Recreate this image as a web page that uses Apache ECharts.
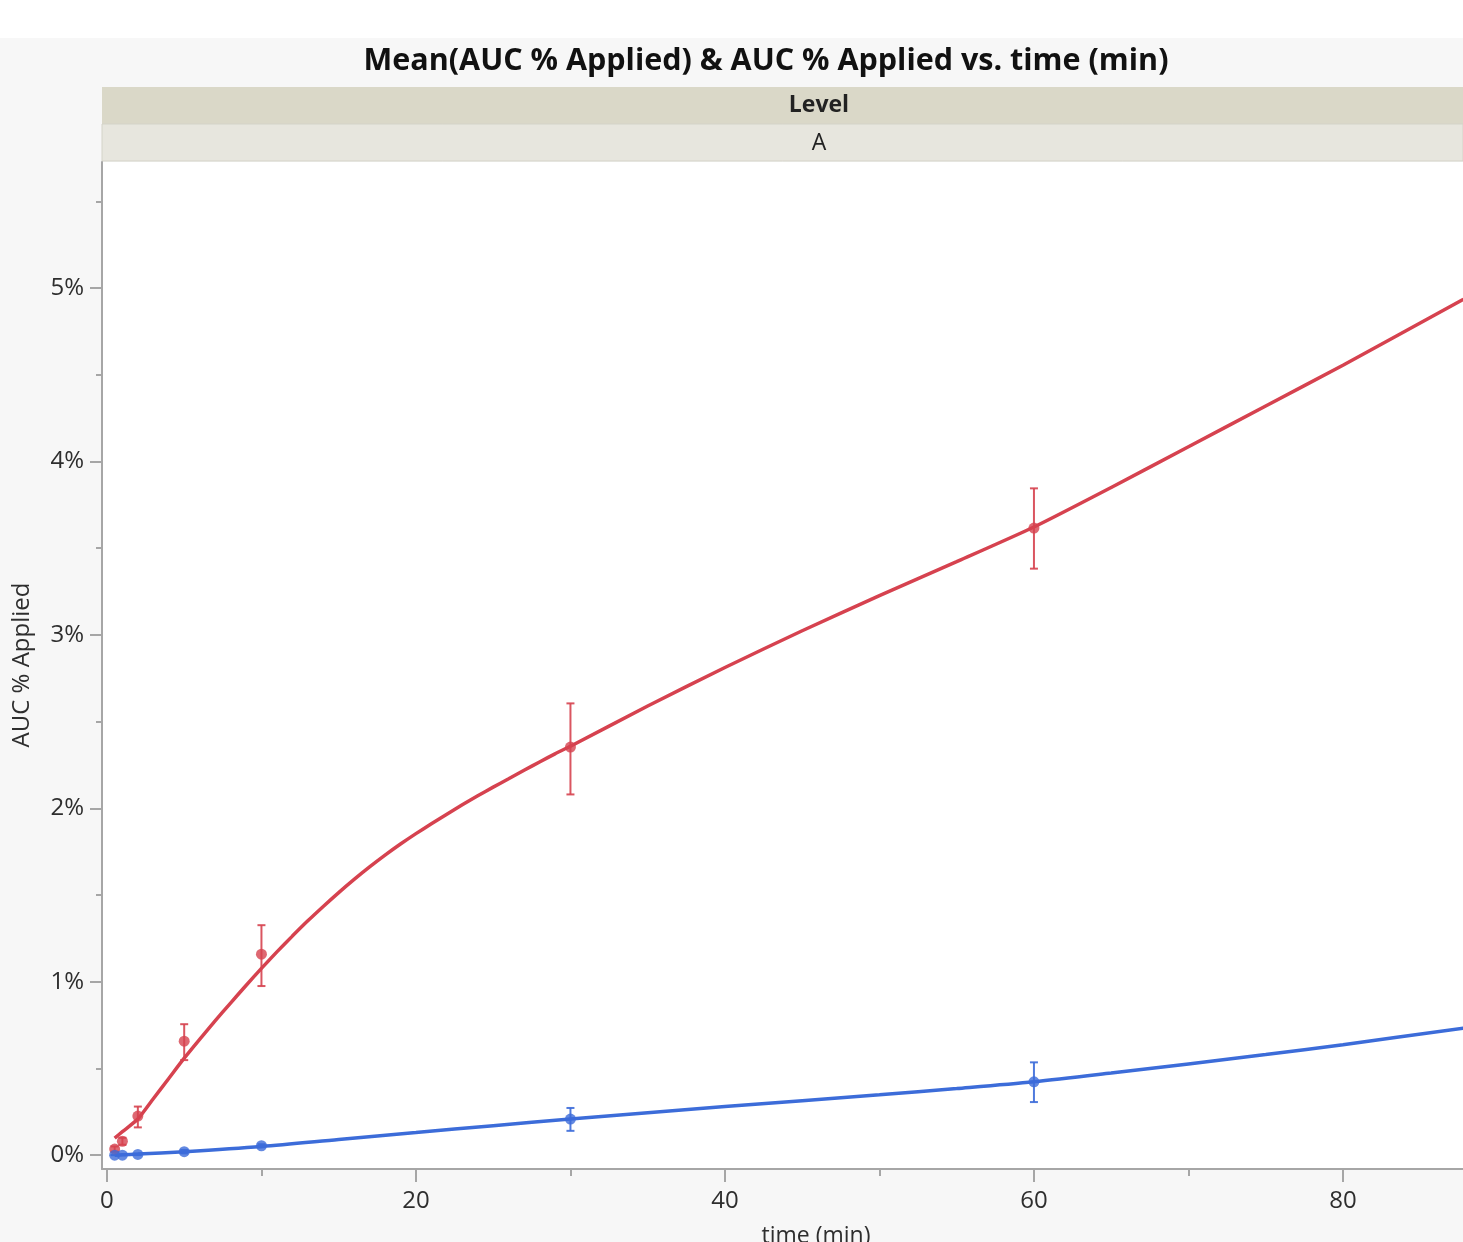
<!DOCTYPE html>
<html>
<head>
<meta charset="utf-8">
<script src="https://cdn.jsdelivr.net/npm/echarts@6/dist/echarts.min.js"></script>
<style>
  html, body { margin: 0; padding: 0; background: #ffffff; overflow: hidden; }
  #chart { width: 1463px; height: 1242px; }
</style>
</head>
<body>
<div id="chart"></div>
<script>
// Sampling times (min) for the measured means
const times = [0.5, 1, 2, 5, 10, 30, 60];

// Level A, upper series: mean AUC % Applied with error bar limits
const redMean  = [0.035, 0.08, 0.225, 0.657, 1.159, 2.353, 3.616];
const redLower = [0.02, 0.06, 0.16, 0.548, 0.975, 2.080, 3.382];
const redUpper = [0.05, 0.10, 0.28, 0.755, 1.326, 2.605, 3.845];

// Level A, lower series
const blueMean  = [0.0, 0.0, 0.004, 0.02, 0.054, 0.208, 0.423];
const blueLower = [0.0, 0.0, 0.0, 0.01, 0.045, 0.140, 0.306];
const blueUpper = [0.0, 0.0, 0.008, 0.03, 0.063, 0.272, 0.535];

// Smoothed fit curves, sampled along time
const redFitTimes = [0.5, 1, 2, 3, 4, 5, 6, 7, 8, 9, 10, 11, 12, 13, 14, 15, 16, 17, 18, 19, 20,
                     21, 22, 23, 24, 25, 26, 27, 28, 29, 30, 35, 40, 45, 50, 55, 60, 65, 70, 75, 80, 87.8];
const redFit      = [0.098, 0.135, 0.208, 0.325, 0.442, 0.559, 0.668, 0.774, 0.877, 0.978, 1.077,
                     1.172, 1.263, 1.351, 1.434, 1.514, 1.590, 1.662, 1.730, 1.794, 1.854,
                     1.911, 1.966, 2.020, 2.072, 2.122, 2.170, 2.219, 2.267, 2.314, 2.358,
                     2.590, 2.812, 3.024, 3.226, 3.422, 3.622, 3.850, 4.085, 4.320, 4.555, 4.935];
const blueFitTimes = [0.5, 1, 2, 5, 10, 15, 20, 25, 30, 40, 50, 55, 60, 65, 70, 75, 80, 87.8];
const blueFit      = [0.0, 0.002, 0.006, 0.02, 0.05, 0.09, 0.13, 0.17, 0.208, 0.28, 0.348, 0.384, 0.423, 0.473, 0.526, 0.58, 0.637, 0.732];

// Axis ticks
const xTickValues  = [0, 20, 40, 60, 80];
const xMinorValues = [10, 30, 50, 70];
const yTickValues  = [0, 1, 2, 3, 4, 5];
const yMinorValues = [0.5, 1.5, 2.5, 3.5, 4.5, 5.5];

const titleText = 'Mean(AUC % Applied) & AUC % Applied vs. time (min)';
const groupHeader = 'Level';
const groupValue = 'A';
const xName = 'time (min)';
const yName = 'AUC % Applied';

const RED = '#d6424f';
const BLUE = '#3c6cd9';
const FONT = '"Open Sans", "Noto Sans", sans-serif';
const AXIS_GRAY = '#a6a6a6';
const LABEL_COLOR = '#2e2e2e';

const X_MIN = -0.32, X_MAX = 87.77;
const Y_MIN = -0.08, Y_MAX = 5.727;

function zip(xs, ys) { return xs.map((x, i) => [x, ys[i]]); }
function bars(xs, lo, hi) { return xs.map((x, i) => [x, lo[i], hi[i]]); }

function errorBarItem(color) {
  return function (params, api) {
    const x = api.value(0);
    const lo = api.coord([x, api.value(1)]);
    const hi = api.coord([x, api.value(2)]);
    const cap = 4;
    const style = { stroke: color, lineWidth: 2, fill: null, opacity: 0.9 };
    return {
      type: 'group',
      children: [
        { type: 'line', shape: { x1: lo[0], y1: lo[1], x2: hi[0], y2: hi[1] }, style },
        { type: 'line', shape: { x1: hi[0] - cap, y1: hi[1], x2: hi[0] + cap, y2: hi[1] }, style },
        { type: 'line', shape: { x1: lo[0] - cap, y1: lo[1], x2: lo[0] + cap, y2: lo[1] }, style }
      ]
    };
  };
}

const chart = echarts.init(document.getElementById('chart'), null, { renderer: 'canvas', width: 1463, height: 1242 });

const baseX = {
  type: 'value', min: X_MIN, max: X_MAX, position: 'bottom',
  axisLine: { onZero: false, show: false },
  splitLine: { show: false },
  axisLabel: { show: false },
  axisTick: { show: false }
};
const baseY = {
  type: 'value', min: Y_MIN, max: Y_MAX, position: 'left',
  axisLine: { onZero: false, show: false },
  splitLine: { show: false },
  axisLabel: { show: false },
  axisTick: { show: false }
};

chart.setOption({
  backgroundColor: '#f7f7f7',
  animation: false,
  grid: {
    left: 102, top: 162, right: 0, height: 1007,
    show: true, backgroundColor: '#ffffff', borderWidth: 0
  },
  xAxis: [
    Object.assign({}, baseX, {
      axisLine: { show: true, onZero: false, lineStyle: { color: AXIS_GRAY, width: 2 } },
      axisTick: { show: true, customValues: xTickValues, length: 13, lineStyle: { color: AXIS_GRAY, width: 2 } },
      axisLabel: {
        show: true, customValues: xTickValues, margin: 20,
        color: LABEL_COLOR, fontFamily: FONT, fontSize: 24
      }
    }),
    Object.assign({}, baseX, {
      axisTick: { show: true, customValues: xMinorValues, length: 7, lineStyle: { color: AXIS_GRAY, width: 2 } }
    })
  ],
  yAxis: [
    Object.assign({}, baseY, {
      axisLine: { show: true, onZero: false, lineStyle: { color: AXIS_GRAY, width: 2 } },
      axisTick: { show: true, customValues: yTickValues, length: 12, lineStyle: { color: AXIS_GRAY, width: 2 } },
      axisLabel: {
        show: true, customValues: yTickValues, margin: 18,
        color: LABEL_COLOR, fontFamily: FONT, fontSize: 24,
        formatter: '{value}%'
      }
    }),
    Object.assign({}, baseY, {
      axisTick: { show: true, customValues: yMinorValues, length: 6, lineStyle: { color: AXIS_GRAY, width: 2 } }
    })
  ],
  graphic: [
    { type: 'rect', shape: { x: 0, y: 0, width: 1463, height: 38 }, style: { fill: '#ffffff' }, z: -10 },
    { type: 'rect', shape: { x: 102, y: 87, width: 1361, height: 37 }, style: { fill: '#dad8c8' } },
    { type: 'rect', shape: { x: 102, y: 124, width: 1361, height: 37 }, style: { fill: '#e7e6de', stroke: '#d4d3c8', lineWidth: 1 } },
    {
      type: 'text', x: 766, y: 61,
      style: { text: titleText, fill: '#111111', font: 'bold 30.5px ' + FONT, textAlign: 'center', textVerticalAlign: 'middle' }
    },
    {
      type: 'text', x: 819, y: 105,
      style: { text: groupHeader, fill: '#222222', font: 'bold 23px ' + FONT, textAlign: 'center', textVerticalAlign: 'middle' }
    },
    {
      type: 'text', x: 819, y: 143,
      style: { text: groupValue, fill: '#222222', font: '23px ' + FONT, textAlign: 'center', textVerticalAlign: 'middle' }
    },
    {
      type: 'text', x: 816, y: 1236,
      style: { text: xName, fill: LABEL_COLOR, font: '23px ' + FONT, textAlign: 'center', textVerticalAlign: 'middle' }
    },
    {
      type: 'text', x: 22, y: 665, rotation: Math.PI / 2,
      style: { text: yName, fill: LABEL_COLOR, font: '24px ' + FONT, textAlign: 'center', textVerticalAlign: 'middle' }
    }
  ],
  series: [
    {
      type: 'line', xAxisIndex: 0, yAxisIndex: 0, data: zip(redFitTimes, redFit),
      smooth: 0.2, showSymbol: false, lineStyle: { color: RED, width: 3.5 }, z: 2
    },
    {
      type: 'line', xAxisIndex: 0, yAxisIndex: 0, data: zip(blueFitTimes, blueFit),
      smooth: 0.3, showSymbol: false, lineStyle: { color: BLUE, width: 3.5 }, z: 2
    },
    {
      type: 'custom', xAxisIndex: 0, yAxisIndex: 0, data: bars(times, redLower, redUpper),
      renderItem: errorBarItem(RED), z: 3
    },
    {
      type: 'custom', xAxisIndex: 0, yAxisIndex: 0, data: bars(times, blueLower, blueUpper),
      renderItem: errorBarItem(BLUE), z: 3
    },
    {
      type: 'scatter', xAxisIndex: 0, yAxisIndex: 0, data: zip(times, redMean),
      symbol: 'circle', symbolSize: 11, itemStyle: { color: RED }, z: 4
    },
    {
      type: 'scatter', xAxisIndex: 0, yAxisIndex: 0, data: zip(times, blueMean),
      symbol: 'circle', symbolSize: 11, itemStyle: { color: BLUE }, z: 4
    }
  ]
});
</script>
</body>
</html>
